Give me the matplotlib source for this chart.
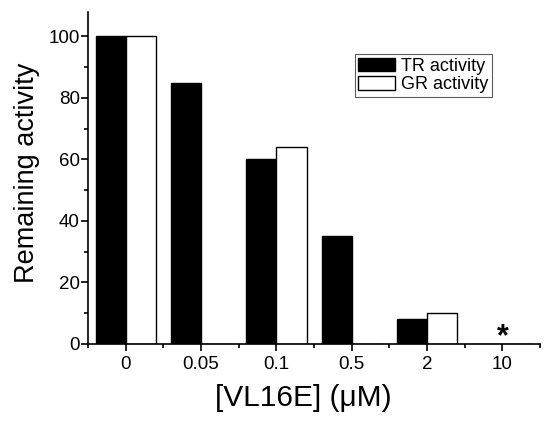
import matplotlib.pyplot as plt
import numpy as np
from matplotlib.ticker import MultipleLocator

plt.rcParams['font.family'] = ['Liberation Sans', 'DejaVu Sans']

# data
conc = ['0', '0.05', '0.1', '0.5', '2', '10']
tr = [100, 85, 60, 35, 8, 0]
gr = [100, 0, 64, 0, 10, 0]
star_at = '10'

x = np.arange(len(conc))
w = 0.4

fig = plt.figure(figsize=(5.5, 4.23), dpi=100)
ax = fig.add_axes([0.16, 0.187, 0.822, 0.785])

ax.bar(x - w / 2, tr, w, color='black', edgecolor='black', linewidth=1, label='TR activity')
ax.bar(x + w / 2, gr, w, color='white', edgecolor='black', linewidth=1, label='GR activity')

# asterisk = not detectable
ax.text(conc.index(star_at), -2.8, '*', ha='center', va='bottom', fontsize=22, fontweight='bold')

ax.set_xlim(-0.5, 5.5)
ax.set_ylim(0, 108)
ax.set_xticks(x)
ax.set_xticklabels(conc)
ax.xaxis.set_minor_locator(MultipleLocator(1, offset=0.5))
ax.yaxis.set_major_locator(MultipleLocator(20))
ax.yaxis.set_minor_locator(MultipleLocator(10))

ax.spines['top'].set_visible(False)
ax.spines['right'].set_visible(False)
for s in ['left', 'bottom']:
    ax.spines[s].set_linewidth(1.2)

ax.tick_params(which='major', direction='out', length=5, width=1.2, labelsize=13.5)
ax.tick_params(which='minor', direction='out', length=3, width=1.2)
ax.tick_params(axis='y', which='major', pad=1)
ax.tick_params(axis='x', which='major', pad=4)

ax.set_xlabel('[VL16E] (μM)', fontsize=21.5)
ax.xaxis.set_label_coords(0.476, -0.12, transform=ax.transAxes)
ax.xaxis.label.set_va('top')
ax.set_ylabel('Remaining activity', fontsize=19.5)
ax.yaxis.set_label_coords(-0.136, 0.515, transform=ax.transAxes)
ax.yaxis.label.set_va('center')

leg = ax.legend(loc='upper right', bbox_to_anchor=(0.893, 0.873), fontsize=13,
                fancybox=False, frameon=True, edgecolor='#333333',
                handlelength=2.0, handleheight=0.8, borderpad=0.2,
                labelspacing=0.05, handletextpad=0.35, borderaxespad=0)
leg.get_frame().set_linewidth(0.8)

fig.savefig('out.png', dpi=100)
